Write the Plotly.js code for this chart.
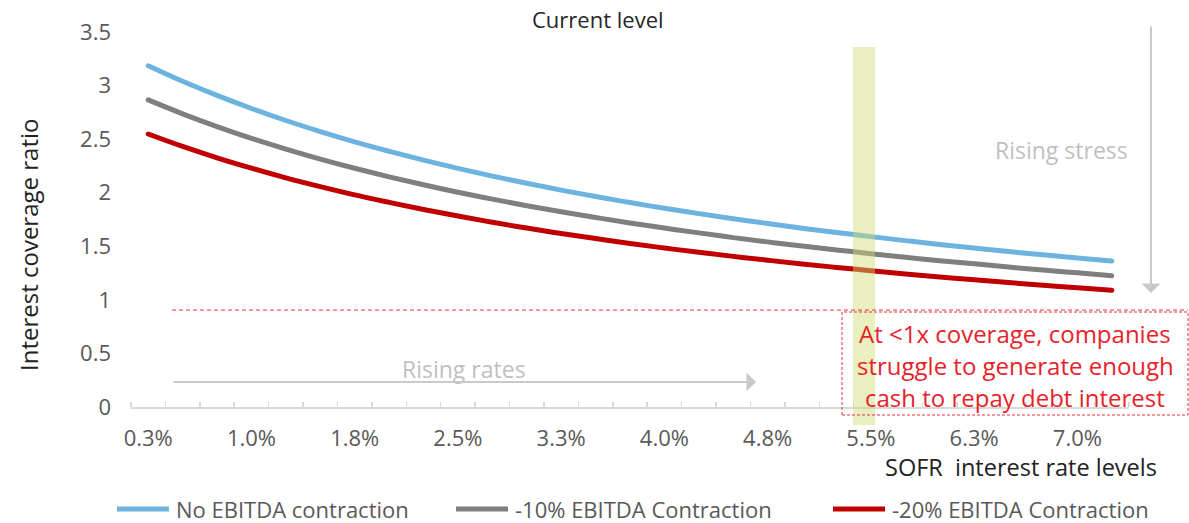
<!DOCTYPE html>
<html>
<head>
<meta charset="utf-8">
<script src="https://cdn.plot.ly/plotly-3.0.1.min.js"></script>
<style>
  html, body { margin: 0; padding: 0; background: #fff; }
  #chart { width: 1189px; height: 523px; }
  .scatterlayer .js-line { stroke-linecap: round; }
</style>
</head>
<body>
<div id="chart"></div>
<script>
// SOFR rate levels (%), one point per 25bp step
const rates = [0.25, 0.5, 0.75, 1.0, 1.25, 1.5, 1.75, 2.0, 2.25, 2.5, 2.75, 3.0, 3.25, 3.5, 3.75,
               4.0, 4.25, 4.5, 4.75, 5.0, 5.25, 5.5, 5.75, 6.0, 6.25, 6.5, 6.75, 7.0, 7.25];

// Interest coverage ratio under each EBITDA scenario
const noContraction = [3.185, 3.040, 2.908, 2.786, 2.674, 2.571, 2.475, 2.387, 2.304, 2.227,
                       2.155, 2.088, 2.024, 1.965, 1.908, 1.855, 1.805, 1.757, 1.712, 1.669,
                       1.629, 1.590, 1.553, 1.517, 1.484, 1.451, 1.420, 1.391, 1.362];
const contraction10 = [2.866, 2.736, 2.617, 2.507, 2.407, 2.314, 2.228, 2.148, 2.074, 2.004,
                       1.940, 1.879, 1.822, 1.769, 1.717, 1.670, 1.625, 1.581, 1.541, 1.502,
                       1.466, 1.431, 1.398, 1.365, 1.336, 1.306, 1.278, 1.252, 1.226];
const contraction20 = [2.548, 2.432, 2.326, 2.229, 2.139, 2.057, 1.980, 1.910, 1.843, 1.782,
                       1.724, 1.670, 1.619, 1.572, 1.526, 1.484, 1.444, 1.406, 1.370, 1.335,
                       1.303, 1.272, 1.242, 1.214, 1.187, 1.161, 1.136, 1.113, 1.090];

const seriesNames = ['No EBITDA contraction', '-10% EBITDA Contraction', '-20% EBITDA Contraction'];
const seriesColors = ['#6cb4df', '#7f7f7f', '#c00000'];

// x-axis labels, every third rate step
const tickRates = [0.25, 1.0, 1.75, 2.5, 3.25, 4.0, 4.75, 5.5, 6.25, 7.0];
const tickLabels = ['0.3%', '1.0%', '1.8%', '2.5%', '3.3%', '4.0%', '4.8%', '5.5%', '6.3%', '7.0%'];

// current SOFR band and the 1x coverage threshold
const currentBand = [5.37, 5.53];
const thresholdLevel = 0.905;

const boxLines = ['At &lt;1x coverage, companies', 'struggle to generate enough', 'cash to repay debt interest'];

// layout geometry (pixels) and pixel -> paper helpers
const W = 1189, H = 523;
const ML = 131, MR = 60, MT = 32, MB = 116;
const PW = W - ML - MR, PH = H - MT - MB;
const X = p => (p - ML) / PW;
const Y = p => (MT + PH - p) / PH;

const FONT = '"Open Sans", "Noto Sans", sans-serif';
const GREY_TXT = '#595959';

const seriesValues = [noContraction, contraction10, contraction20];
const traces = seriesValues.map((vals, i) => ({
  type: 'scatter',
  mode: 'lines',
  x: rates,
  y: vals,
  name: seriesNames[i],
  line: { color: seriesColors[i], width: 5, shape: 'spline', smoothing: 1 },
  showlegend: false,
  hoverinfo: 'skip'
}));

const shapes = [
  // current level band
  { type: 'rect', xref: 'x', yref: 'paper', x0: currentBand[0], x1: currentBand[1],
    y0: Y(425), y1: Y(47), fillcolor: 'rgb(207,219,110)', opacity: 0.45,
    line: { width: 0 }, layer: 'above' },
  // 1x threshold dashed line
  { type: 'line', xref: 'paper', yref: 'y', x0: X(172), x1: X(1188),
    y0: thresholdLevel, y1: thresholdLevel, line: { color: '#ee2f38', width: 1, dash: '4px,3px' } },
  // dashed callout box
  { type: 'rect', xref: 'paper', yref: 'paper', x0: X(842), x1: X(1188),
    y0: Y(415), y1: Y(312), line: { color: '#e0343c', width: 1, dash: '3px,2px' },
    fillcolor: 'rgba(0,0,0,0)' }
];

// legend entries drawn along the bottom
const legendX = [115, 454, 831];
legendX.forEach((lx, i) => {
  shapes.push({ type: 'line', xref: 'paper', yref: 'paper',
    x0: X(lx + 2), x1: X(lx + 54), y0: Y(509), y1: Y(509),
    line: { color: seriesColors[i], width: 5 } });
});

const txt = (text, px, py, size, color, extra) => Object.assign({
  text: text, xref: 'paper', yref: 'paper', x: X(px), y: Y(py),
  xanchor: 'center', yanchor: 'middle', showarrow: false,
  font: { family: FONT, size: size, color: color }
}, extra || {});

const annotations = [
  txt('Current level', 598, 19, 22, '#262626'),
  txt('Rising stress', 1061, 150, 23, '#bfbfbf'),
  txt('Rising rates', 464, 369, 23, '#bfbfbf'),
  // rising stress arrow (downwards)
  { text: '', xref: 'paper', yref: 'paper', x: X(1151), y: Y(293), ax: 0, ay: -268,
    showarrow: true, arrowhead: 1, arrowsize: 1.6, arrowwidth: 2, arrowcolor: '#c9c9c9', standoff: 0 },
  // rising rates arrow (rightwards)
  { text: '', xref: 'paper', yref: 'paper', x: X(756), y: Y(382), ax: -584, ay: 0,
    showarrow: true, arrowhead: 1, arrowsize: 1.6, arrowwidth: 2, arrowcolor: '#c9c9c9', standoff: 0 },
  // axis titles
  txt('Interest coverage ratio', 28, 245, 24, '#222', { textangle: -90 }),
  txt('SOFR\u00a0 interest rate levels', 1021, 467, 23.5, '#222')
];

boxLines.forEach((t, i) => {
  annotations.push(txt(t, 1015, 333 + 32 * i, 24, '#e8222a'));
});

seriesNames.forEach((n, i) => {
  annotations.push(txt(n, legendX[i] + 59, 509, 22, GREY_TXT, { xanchor: 'left' }));
});

const layout = {
  width: W, height: H,
  margin: { l: ML, r: MR, t: MT, b: MB, pad: 0 },
  paper_bgcolor: '#fff', plot_bgcolor: '#fff',
  font: { family: FONT, size: 22, color: GREY_TXT },
  showlegend: false,
  xaxis: {
    range: [0.125, 7.375],
    tickmode: 'array', tickvals: tickRates, ticktext: tickLabels,
    ticks: '', showgrid: false, zeroline: false,
    showline: true, linecolor: '#d9d9d9', linewidth: 1.5,
    ticklabelstandoff: 11,
    tickfont: { family: FONT, size: 22, color: GREY_TXT },
    minor: { tickmode: 'linear', tick0: 0.125, dtick: 0.25, ticks: 'inside', ticklen: 5,
             tickcolor: '#d9d9d9', tickwidth: 1.5, showgrid: false }
  },
  yaxis: {
    range: [0, 3.5], dtick: 0.5, tick0: 0,
    ticks: '', showgrid: false, zeroline: false, showline: false,
    ticklabelstandoff: 19,
    tickfont: { family: FONT, size: 22, color: GREY_TXT }
  },
  shapes: shapes,
  annotations: annotations
};

Plotly.newPlot('chart', traces, layout, { staticPlot: true, displayModeBar: false });
</script>
</body>
</html>
